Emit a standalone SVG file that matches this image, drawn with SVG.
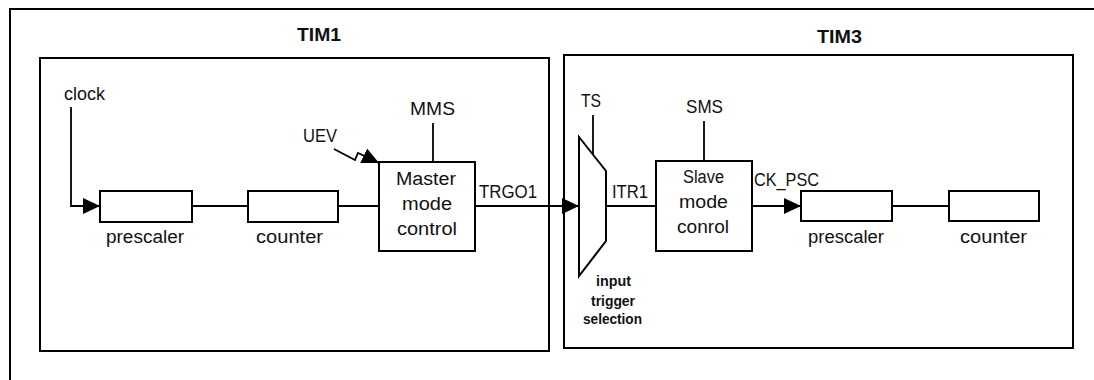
<svg xmlns="http://www.w3.org/2000/svg" width="1094" height="380" viewBox="0 0 1094 380">
<defs>
<style>
.box{fill:#fff;stroke:#000;stroke-width:2}
.frame{fill:none;stroke:#000;stroke-width:2}
.ln{fill:none;stroke:#000;stroke-width:1.8}
.t{font-family:"Liberation Sans",Arial,sans-serif;font-size:18px;fill:#111}
.tb{font-family:"Liberation Sans",Arial,sans-serif;font-size:19px;font-weight:bold;fill:#111}
.ts{font-family:"Liberation Sans",Arial,sans-serif;font-size:14px;font-weight:bold;fill:#111}
</style>
<marker id="arr" markerUnits="userSpaceOnUse" markerWidth="17" markerHeight="16" refX="17" refY="8" orient="auto" viewBox="0 0 17 16">
<path d="M0,0 L17,8 L0,16 z" fill="#000"/>
</marker>
</defs>
<rect fill="#fff" x="0" y="0" width="1094" height="380"/>
<g id="outer-frame">
<rect class="frame" x="10" y="9" width="1200" height="500"/>
</g>
<g id="tim1">
<rect class="frame" x="40" y="58" width="509" height="293"/>
<text class="tb" x="297" y="41" textLength="44" lengthAdjust="spacingAndGlyphs">TIM1</text>
</g>
<g id="tim3">
<rect class="frame" x="564" y="55" width="509" height="293"/>
<text class="tb" x="817" y="43" textLength="45" lengthAdjust="spacingAndGlyphs">TIM3</text>
</g>
<g id="connectors">
<polyline class="ln" points="71,107 71,206 100,206" marker-end="url(#arr)"/>
<line class="ln" x1="192" y1="206" x2="248" y2="206"/>
<line class="ln" x1="338" y1="206" x2="379" y2="206"/>
<line class="ln" x1="433" y1="123" x2="433" y2="162"/>
<polyline class="ln" points="334,149 355,160 358,153 379,163" marker-end="url(#arr)"/>
<line class="ln" x1="475" y1="206" x2="579" y2="206" marker-end="url(#arr)"/>
<line class="ln" x1="593" y1="115" x2="593" y2="155"/>
<line class="ln" x1="606" y1="206" x2="656" y2="206"/>
<line class="ln" x1="704" y1="121" x2="704" y2="161"/>
<line class="ln" x1="752" y1="206" x2="801" y2="206" marker-end="url(#arr)"/>
<line class="ln" x1="892" y1="206" x2="949" y2="206"/>
</g>
<g id="clock-label"><text class="t" x="64" y="100" textLength="41" lengthAdjust="spacingAndGlyphs">clock</text></g>
<g id="prescaler1">
<rect class="box" x="100" y="191" width="92" height="31"/>
<text class="t" x="106" y="243" textLength="78" lengthAdjust="spacingAndGlyphs">prescaler</text>
</g>
<g id="counter1">
<rect class="box" x="248" y="191" width="90" height="31"/>
<text class="t" x="256" y="243" textLength="67" lengthAdjust="spacingAndGlyphs">counter</text>
</g>
<g id="master">
<rect class="box" x="379" y="162" width="96" height="89"/>
<text class="t" x="396" y="185" textLength="60" lengthAdjust="spacingAndGlyphs">Master</text>
<text class="t" x="402" y="210" textLength="50" lengthAdjust="spacingAndGlyphs">mode</text>
<text class="t" x="397" y="235" textLength="60" lengthAdjust="spacingAndGlyphs">control</text>
</g>
<g id="mms-label"><text class="t" x="410" y="115" textLength="45" lengthAdjust="spacingAndGlyphs">MMS</text></g>
<g id="uev-label"><text class="t" x="303" y="142" textLength="34" lengthAdjust="spacingAndGlyphs">UEV</text></g>
<g id="trgo1-label"><text class="t" x="479" y="198" textLength="58" lengthAdjust="spacingAndGlyphs">TRGO1</text></g>
<g id="mux">
<polygon class="box" points="579,137 606,171 606,241 579,276"/>
<text class="ts" x="596" y="286" textLength="35" lengthAdjust="spacingAndGlyphs">input</text>
<text class="ts" x="591" y="306" textLength="44" lengthAdjust="spacingAndGlyphs">trigger</text>
<text class="ts" x="583" y="324" textLength="59" lengthAdjust="spacingAndGlyphs">selection</text>
</g>
<g id="ts-label"><text class="t" x="581" y="107" textLength="20" lengthAdjust="spacingAndGlyphs">TS</text></g>
<g id="itr1-label"><text class="t" x="612" y="198" textLength="36" lengthAdjust="spacingAndGlyphs">ITR1</text></g>
<g id="slave">
<rect class="box" x="656" y="161" width="96" height="90"/>
<text class="t" x="683" y="183" textLength="41" lengthAdjust="spacingAndGlyphs">Slave</text>
<text class="t" x="679" y="208" textLength="49" lengthAdjust="spacingAndGlyphs">mode</text>
<text class="t" x="677" y="233" textLength="52" lengthAdjust="spacingAndGlyphs">conrol</text>
</g>
<g id="sms-label"><text class="t" x="686" y="113" textLength="37" lengthAdjust="spacingAndGlyphs">SMS</text></g>
<g id="ckpsc-label"><text class="t" x="754" y="186" textLength="65" lengthAdjust="spacingAndGlyphs">CK_PSC</text></g>
<g id="prescaler2">
<rect class="box" x="801" y="191" width="91" height="30"/>
<text class="t" x="808" y="243" textLength="76" lengthAdjust="spacingAndGlyphs">prescaler</text>
</g>
<g id="counter2">
<rect class="box" x="949" y="191" width="90" height="30"/>
<text class="t" x="960" y="243" textLength="67" lengthAdjust="spacingAndGlyphs">counter</text>
</g>
</svg>
